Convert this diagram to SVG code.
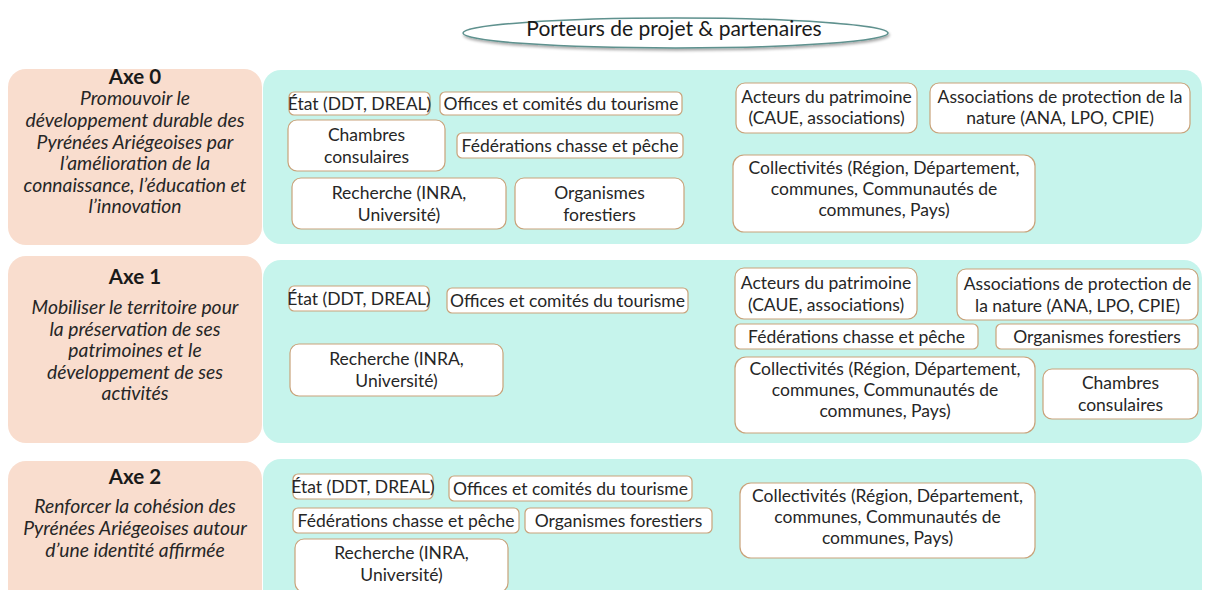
<svg xmlns="http://www.w3.org/2000/svg" width="1209" height="590" viewBox="0 0 1209 590">
<defs>
<filter id="sh" x="-10%" y="-50%" width="120%" height="200%">
<feGaussianBlur in="SourceAlpha" stdDeviation="1.5"/>
<feOffset dx="1" dy="2"/>
<feComponentTransfer><feFuncA type="linear" slope="0.35"/></feComponentTransfer>
<feMerge><feMergeNode/><feMergeNode in="SourceGraphic"/></feMerge>
</filter>
</defs>
<style>
.peach{fill:#F9DDCE;}
.cyan{fill:#C6F4EC;}
.node rect{fill:#FFFFFF;stroke:#C9A27A;stroke-width:1.2;}
.nt{font-family:Lato,"Open Sans",sans-serif;font-size:17.5px;fill:#262626;text-anchor:middle;}
.ax{font-family:Lato,"Open Sans",sans-serif;font-size:20.5px;font-weight:bold;fill:#1a1a1a;text-anchor:middle;}
.it{font-family:Lato,"Open Sans",sans-serif;font-size:19.3px;font-style:italic;fill:#262626;text-anchor:middle;}
.title{font-family:Lato,"Open Sans",sans-serif;font-size:21px;fill:#1a1a1a;text-anchor:middle;}
</style>
<rect width="1209" height="590" fill="#FFFFFF"/>

<g id="title">
<ellipse cx="675.5" cy="33" rx="212.5" ry="15" fill="#FFFFFF" stroke="#5E918E" stroke-width="1.5" filter="url(#sh)"/>
<text class="title" x="674" y="36">Porteurs de projet &amp; partenaires</text>
</g>

<!-- Axe 0 -->
<g id="band0">
<rect class="cyan" x="263" y="70" width="939" height="174" rx="18"/>
<rect class="peach" x="8" y="69" width="254" height="176" rx="18"/>
</g>
<g id="axe0">
<text class="ax" x="135" y="84">Axe 0</text>
<text class="it" x="135" y="105">Promouvoir le</text>
<text class="it" x="135" y="127">développement durable des</text>
<text class="it" x="135" y="149">Pyrénées Ariégeoises par</text>
<text class="it" x="135" y="170">l’amélioration de la</text>
<text class="it" x="135" y="192">connaissance, l’éducation et</text>
<text class="it" x="135" y="213">l’innovation</text>
</g>
<g id="a0-etat" class="node"><rect x="289" y="92" width="141" height="23" rx="5"/><text class="nt" x="359.5" y="109.5">État (DDT, DREAL)</text></g>
<g id="a0-offices" class="node"><rect x="440" y="92" width="242" height="23" rx="5"/><text class="nt" x="561" y="109.5">Offices et comités du tourisme</text></g>
<g id="a0-chambres" class="node"><rect x="288" y="120" width="157" height="51" rx="9"/><text class="nt" x="366.5" y="141">Chambres</text><text class="nt" x="366.5" y="163">consulaires</text></g>
<g id="a0-federations" class="node"><rect x="457" y="133" width="226" height="25" rx="5"/><text class="nt" x="570" y="151.5">Fédérations chasse et pêche</text></g>
<g id="a0-recherche" class="node"><rect x="292" y="178" width="214" height="51" rx="9"/><text class="nt" x="399" y="198.5">Recherche (INRA,</text><text class="nt" x="399" y="220.5">Université)</text></g>
<g id="a0-organismes" class="node"><rect x="515" y="178" width="169" height="51" rx="9"/><text class="nt" x="599.5" y="198.5">Organismes</text><text class="nt" x="599.5" y="220.5">forestiers</text></g>
<g id="a0-acteurs" class="node"><rect x="736" y="83" width="181" height="50" rx="9"/><text class="nt" x="826.5" y="102.5">Acteurs du patrimoine</text><text class="nt" x="826.5" y="124">(CAUE, associations)</text></g>
<g id="a0-associations" class="node"><rect x="930" y="83" width="260" height="50" rx="9"/><text class="nt" x="1060" y="102.5">Associations de protection de la</text><text class="nt" x="1060" y="124">nature (ANA, LPO, CPIE)</text></g>
<g id="a0-collectivites" class="node"><rect x="733" y="155" width="302" height="77" rx="11"/><text class="nt" x="884" y="174">Collectivités (Région, Département,</text><text class="nt" x="884" y="195">communes, Communautés de</text><text class="nt" x="884" y="216">communes, Pays)</text></g>

<!-- Axe 1 -->
<g id="band1">
<rect class="cyan" x="263" y="260" width="939" height="183" rx="18"/>
<rect class="peach" x="8" y="256" width="254" height="187" rx="18"/>
</g>
<g id="axe1">
<text class="ax" x="135" y="284">Axe 1</text>
<text class="it" x="135" y="314">Mobiliser le territoire pour</text>
<text class="it" x="135" y="336">la préservation de ses</text>
<text class="it" x="135" y="357">patrimoines et le</text>
<text class="it" x="135" y="379">développement de ses</text>
<text class="it" x="135" y="400">activités</text>
</g>
<g id="a1-etat" class="node"><rect x="289" y="286" width="140" height="25" rx="5"/><text class="nt" x="359" y="304.5">État (DDT, DREAL)</text></g>
<g id="a1-offices" class="node"><rect x="447" y="288" width="241" height="25" rx="5"/><text class="nt" x="567.5" y="306.5">Offices et comités du tourisme</text></g>
<g id="a1-recherche" class="node"><rect x="290" y="344" width="213" height="52" rx="9"/><text class="nt" x="396.5" y="365">Recherche (INRA,</text><text class="nt" x="396.5" y="387">Université)</text></g>
<g id="a1-acteurs" class="node"><rect x="735" y="268" width="182" height="51" rx="9"/><text class="nt" x="826" y="288.5">Acteurs du patrimoine</text><text class="nt" x="826" y="310.5">(CAUE, associations)</text></g>
<g id="a1-associations" class="node"><rect x="957" y="269" width="241" height="51" rx="9"/><text class="nt" x="1077.5" y="289.5">Associations de protection de</text><text class="nt" x="1077.5" y="311.5">la nature (ANA, LPO, CPIE)</text></g>
<g id="a1-federations" class="node"><rect x="735" y="324" width="243" height="25" rx="5"/><text class="nt" x="856.5" y="342.5">Fédérations chasse et pêche</text></g>
<g id="a1-organismes" class="node"><rect x="996" y="324" width="202" height="25" rx="5"/><text class="nt" x="1097" y="342.5">Organismes forestiers</text></g>
<g id="a1-collectivites" class="node"><rect x="735" y="357" width="300" height="76" rx="11"/><text class="nt" x="885" y="375">Collectivités (Région, Département,</text><text class="nt" x="885" y="396">communes, Communautés de</text><text class="nt" x="885" y="417">communes, Pays)</text></g>
<g id="a1-chambres" class="node"><rect x="1043" y="369" width="155" height="50" rx="9"/><text class="nt" x="1120.5" y="389">Chambres</text><text class="nt" x="1120.5" y="411">consulaires</text></g>

<!-- Axe 2 -->
<g id="band2">
<rect class="cyan" x="263" y="459" width="939" height="150" rx="18"/>
<rect class="peach" x="8" y="461" width="254" height="150" rx="18"/>
</g>
<g id="axe2">
<text class="ax" x="135" y="484">Axe 2</text>
<text class="it" x="135" y="513">Renforcer la cohésion des</text>
<text class="it" x="135" y="535">Pyrénées Ariégeoises autour</text>
<text class="it" x="135" y="557">d’une identité affirmée</text>
</g>
<g id="a2-etat" class="node"><rect x="293" y="474" width="140" height="25" rx="5"/><text class="nt" x="363" y="492.5">État (DDT, DREAL)</text></g>
<g id="a2-offices" class="node"><rect x="449" y="476" width="243" height="25" rx="5"/><text class="nt" x="570.5" y="494.5">Offices et comités du tourisme</text></g>
<g id="a2-federations" class="node"><rect x="293" y="508" width="226" height="25" rx="5"/><text class="nt" x="406" y="526.5">Fédérations chasse et pêche</text></g>
<g id="a2-organismes" class="node"><rect x="525" y="508" width="187" height="25" rx="5"/><text class="nt" x="618.5" y="526.5">Organismes forestiers</text></g>
<g id="a2-recherche" class="node"><rect x="295" y="539" width="213" height="53" rx="9"/><text class="nt" x="401.5" y="558.5">Recherche (INRA,</text><text class="nt" x="401.5" y="580.5">Université)</text></g>
<g id="a2-collectivites" class="node"><rect x="740" y="483" width="295" height="75" rx="11"/><text class="nt" x="887.5" y="502">Collectivités (Région, Département,</text><text class="nt" x="887.5" y="523">communes, Communautés de</text><text class="nt" x="887.5" y="544">communes, Pays)</text></g>

<g id="connectors"></g>
</svg>
